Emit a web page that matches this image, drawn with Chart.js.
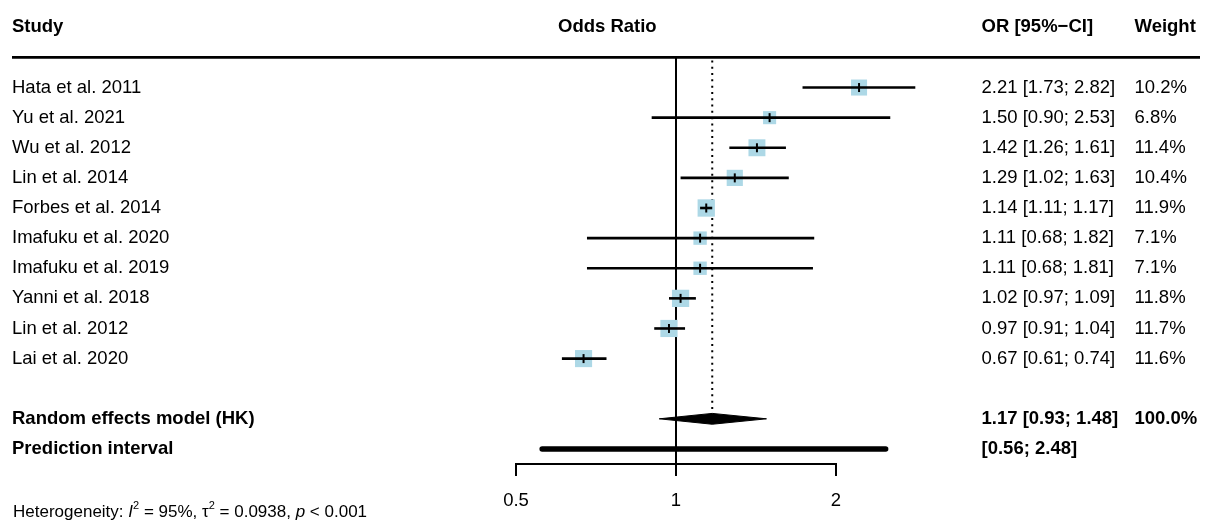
<!DOCTYPE html>
<html><head><meta charset="utf-8">
<script src="https://cdn.jsdelivr.net/npm/chart.js@4.4.1/dist/chart.umd.min.js"></script>
<style>
html,body{margin:0;padding:0;background:#fff;}
#wrap{position:relative;width:1206px;height:522px;overflow:hidden;}
#note{position:absolute;left:13px;top:501px;font:17px "Liberation Sans",Arial,sans-serif;line-height:22px;color:#000;white-space:nowrap;}
#note sup{font-size:11px;line-height:0;vertical-align:8px;}
</style></head><body>
<div id="wrap"><canvas id="c" width="1206" height="522"></canvas>
<div id="note">Heterogeneity: <i>I</i><sup>2</sup> = 95%, &tau;<sup>2</sup> = 0.0938, <i>p</i> &lt; 0.001</div></div>
<script>
// ---- data ----
const studies = ["Hata et al. 2011","Yu et al. 2021","Wu et al. 2012","Lin et al. 2014","Forbes et al. 2014","Imafuku et al. 2020","Imafuku et al. 2019","Yanni et al. 2018","Lin et al. 2012","Lai et al. 2020"];
const oddsRatio = [2.21,1.50,1.42,1.29,1.14,1.11,1.11,1.02,0.97,0.67];
const ciLower   = [1.73,0.90,1.26,1.02,1.11,0.68,0.68,0.97,0.91,0.61];
const ciUpper   = [2.82,2.53,1.61,1.63,1.17,1.82,1.81,1.09,1.04,0.74];
const weights   = [10.2,6.8,11.4,10.4,11.9,7.1,7.1,11.8,11.7,11.6];
const pooled = [1.17, 0.93, 1.48];      // estimate, lower, upper
const pooledWeight = 100.0;
const predInterval = [0.56, 2.48];
const xTickValues = [0.5, 1, 2];
const nullValue = 1;

// ---- layout / style ----
const FONT = '"Liberation Sans", Arial, sans-serif';
const FS = 18.5;
const fmt = v => v.toFixed(2);
const firstStudyRow = 2;
const headerRuleRow = 1;
const pooledRow = firstStudyRow + studies.length + 1;
const predRow = pooledRow + 1;
const nRows = predRow + 1;
const SQUARE_K = 3.55;
const DIAMOND_H = 0.18;
// plotting window (view limits): 160 px per doubling, 0.5 at x=516
const X_MIN = 0.5, X_MAX = 2.5;
const PX_PER_LOG2 = 160;
const AREA_LEFT = 516;
const AREA_RIGHT = AREA_LEFT + PX_PER_LOG2 * Math.log2(X_MAX / X_MIN);
const OR_COL_X = 981.5, W_COL_X = 1134.5, W_AXIS_LEFT = 1120;

const leftLabels = Array(nRows).fill('');
const orLabels = Array(nRows).fill('');
const wLabels = Array(nRows).fill('');
leftLabels[0] = 'Study'; orLabels[0] = 'OR [95%\u2212CI]'; wLabels[0] = 'Weight';
studies.forEach((s, i) => {
  const r = firstStudyRow + i;
  leftLabels[r] = s;
  orLabels[r] = `${fmt(oddsRatio[i])} [${fmt(ciLower[i])}; ${fmt(ciUpper[i])}]`;
  wLabels[r] = `${weights[i].toFixed(1)}%`;
});
leftLabels[pooledRow] = 'Random effects model (HK)';
orLabels[pooledRow] = `${fmt(pooled[0])} [${fmt(pooled[1])}; ${fmt(pooled[2])}]`;
wLabels[pooledRow] = `${pooledWeight.toFixed(1)}%`;
leftLabels[predRow] = 'Prediction interval';
orLabels[predRow] = `[${fmt(predInterval[0])}; ${fmt(predInterval[1])}]`;
const boldRows = [0, pooledRow, predRow];

function rowAxis(position, labels, width, padding, crossAlign, weight) {
  return {
    type: 'linear', position, reverse: true, min: -0.5, max: nRows - 0.5, bounds: 'data', weight,
    grid: {display: false, drawTicks: false}, border: {display: false},
    afterBuildTicks: s => { s.ticks = labels.map((_, i) => ({value: i})); },
    afterFit: s => { s.width = width; s.paddingTop = 0; s.paddingBottom = 0; },
    ticks: {
      autoSkip: false, padding, crossAlign, color: '#000',
      callback: v => labels[v] ?? '',
      font: ctx => ({family: FONT, size: FS, weight: boldRows.includes(ctx.index) ? 'bold' : 'normal'})
    }
  };
}

const datasets = [];
// estimate marks (top)
datasets.push({type: 'scatter', data: studies.map((s, i) => ({x: oddsRatio[i], y: firstStudyRow + i})),
  pointStyle: 'line', pointRotation: 90, pointRadius: 4.5, pointBorderColor: '#000', pointBorderWidth: 2, clip: false});
// CI lines
studies.forEach((s, i) => datasets.push({type: 'line',
  data: [{x: ciLower[i], y: firstStudyRow + i}, {x: ciUpper[i], y: firstStudyRow + i}],
  borderColor: '#000', borderWidth: 2.6, borderCapStyle: 'butt', pointRadius: 0, fill: false, clip: false}));
// weight squares
datasets.push({type: 'scatter', data: studies.map((s, i) => ({x: oddsRatio[i], y: firstStudyRow + i})),
  pointStyle: 'rect', pointRadius: weights.map(w => SQUARE_K * Math.sqrt(w)),
  pointBackgroundColor: '#ADD8E6', pointBorderWidth: 0, clip: false});
// pooled diamond
datasets.push({type: 'line', data: [
    {x: pooled[1], y: pooledRow}, {x: pooled[0], y: pooledRow - DIAMOND_H},
    {x: pooled[2], y: pooledRow}, {x: pooled[0], y: pooledRow + DIAMOND_H}, {x: pooled[1], y: pooledRow}],
  fill: 'shape', backgroundColor: '#000', borderColor: '#000', borderWidth: 1, pointRadius: 0, clip: false});
// prediction interval
datasets.push({type: 'line', data: [{x: predInterval[0], y: predRow}, {x: predInterval[1], y: predRow}],
  borderColor: '#000', borderWidth: 5.5, borderCapStyle: 'round', pointRadius: 0, fill: false, clip: false});
// dotted pooled line
datasets.push({type: 'line', data: [{x: pooled[0], y: headerRuleRow + 0.1}, {x: pooled[0], y: pooledRow - DIAMOND_H}],
  borderColor: '#000', borderWidth: 2, borderDash: [2, 4.3], pointRadius: 0, fill: false, clip: false});
// null effect line
datasets.push({type: 'line', data: [{x: nullValue, y: headerRuleRow}, {x: nullValue, y: nRows - 0.5}],
  borderColor: '#000', borderWidth: 2, pointRadius: 0, fill: false, clip: false});
// x axis line spanning the tick range only
datasets.push({type: 'line', data: [{x: xTickValues[0], y: nRows - 0.5}, {x: xTickValues[xTickValues.length - 1], y: nRows - 0.5}],
  borderColor: '#000', borderWidth: 2, borderCapStyle: 'square', pointRadius: 0, fill: false, clip: false});

const tablePlugin = {
  id: 'tableDecor',
  beforeDatasetsDraw(chart) {
    const {ctx} = chart; const y = chart.scales.y;
    const py = y.getPixelForValue(headerRuleRow);
    ctx.save();
    ctx.strokeStyle = '#000'; ctx.lineWidth = 2.6;
    ctx.beginPath(); ctx.moveTo(12, py); ctx.lineTo(chart.width - 6, py); ctx.stroke();
    ctx.fillStyle = '#000'; ctx.font = `bold ${FS}px ${FONT}`; ctx.textBaseline = 'middle'; ctx.textAlign = 'left';
    ctx.fillText('Odds Ratio', 558, y.getPixelForValue(0));
    ctx.restore();
  }
};

new Chart(document.getElementById('c'), {
  type: 'scatter',
  data: {datasets},
  options: {
    responsive: false, animation: false, events: [],
    layout: {padding: {left: 12, right: 6, top: 7, bottom: 0}},
    plugins: {legend: {display: false}, tooltip: {enabled: false}},
    scales: {
      x: {
        type: 'logarithmic', min: X_MIN, max: X_MAX, bounds: 'data',
        afterBuildTicks: s => { s.ticks = xTickValues.map(v => ({value: v})); },
        afterFit: s => { s.height = 58; s.paddingLeft = 0; s.paddingRight = 0; },
        grid: {display: true, drawOnChartArea: false, drawTicks: true, tickLength: 12, color: '#000', lineWidth: 2},
        border: {display: false, width: 0},
        ticks: {autoSkip: false, maxRotation: 0, padding: 14, color: '#000', font: {family: FONT, size: FS}, callback: v => String(v)}
      },
      y: rowAxis('left', leftLabels, AREA_LEFT - 12, 0, 'far', 0),
      yOR: rowAxis('right', orLabels, W_AXIS_LEFT - AREA_RIGHT, OR_COL_X - AREA_RIGHT, 'near', 0),
      yW: rowAxis('right', wLabels, 1206 - 6 - W_AXIS_LEFT, W_COL_X - W_AXIS_LEFT, 'near', 1)
    }
  },
  plugins: [tablePlugin]
});
</script></body></html>
